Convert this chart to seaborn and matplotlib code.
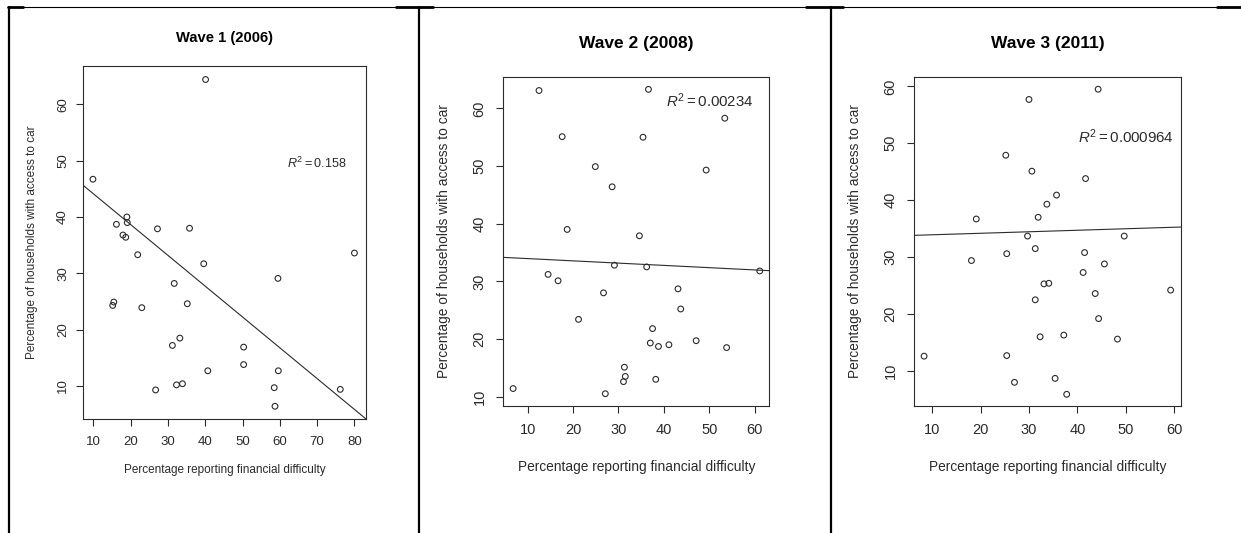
import matplotlib
matplotlib.use("Agg")
import matplotlib.pyplot as plt
from matplotlib.lines import Line2D
import seaborn as sns
import pandas as pd

# ---------------- data ----------------
titles = ["Wave 1 (2006)", "Wave 2 (2008)", "Wave 3 (2011)"]
x_label = "Percentage reporting financial difficulty"
y_label = "Percentage of households with access to car"
r2_labels = [r"$R^2=0.158$", r"$R^2=0.00234$", r"$R^2=0.000964$"]

wave1_x = [9.9, 40.1, 19.0, 16.2, 19.1, 17.95, 18.7, 27.2, 35.8, 21.9, 39.6, 80.0, 59.5,
           31.7, 15.5, 15.2, 23.0, 35.2, 33.2, 31.2, 50.3, 50.3, 40.7, 59.6, 32.3, 33.9,
           26.7, 58.5, 76.2, 58.7]
wave1_y = [46.7, 64.4, 40.0, 38.7, 39.0, 36.8, 36.4, 37.9, 38.0, 33.3, 31.7, 33.6, 29.1,
           28.2, 24.9, 24.3, 23.9, 24.6, 18.5, 17.2, 16.9, 13.8, 12.7, 12.7, 10.2, 10.4,
           9.3, 9.7, 9.4, 6.4]

wave2_x = [6.8, 12.5, 36.6, 53.4, 17.6, 35.4, 24.9, 49.3, 28.6, 18.7, 34.6, 29.1, 36.2,
           61.1, 14.5, 16.7, 43.1, 26.7, 43.7, 21.2, 37.5, 37.0, 38.8, 41.1, 47.1, 53.8,
           31.3, 31.5, 31.1, 38.2, 27.1]
wave2_y = [11.4, 63.1, 63.3, 58.3, 55.1, 55.0, 49.9, 49.3, 46.4, 39.0, 37.9, 32.8, 32.5,
           31.8, 31.2, 30.1, 28.7, 28.0, 25.2, 23.4, 21.8, 19.3, 18.7, 19.0, 19.7, 18.5,
           15.1, 13.5, 12.6, 13.0, 10.5]

wave3_x = [8.3, 44.3, 30.0, 25.2, 30.6, 41.7, 35.7, 33.7, 31.9, 19.1, 29.7, 49.7, 31.3,
           25.4, 41.5, 18.1, 45.6, 41.2, 33.1, 34.1, 59.3, 43.7, 31.3, 44.4, 32.3, 37.2,
           48.3, 25.4, 27.0, 35.4, 37.8]
wave3_y = [12.6, 59.5, 57.7, 47.9, 45.1, 43.8, 40.9, 39.3, 37.0, 36.7, 33.7, 33.7, 31.5,
           30.6, 30.8, 29.4, 28.8, 27.3, 25.3, 25.4, 24.2, 23.6, 22.5, 19.2, 16.0, 16.3,
           15.6, 12.7, 8.0, 8.7, 5.9]

# fitted lines (intercept, slope) as drawn in the reference
fit_intercepts = [49.6, 34.34, 33.66]
fit_slopes = [-0.547, -0.0394, 0.0265]

# R^2 annotation positions (data coords)
r2_x = [70, 50, 50]
r2_y = [49.5, 61.4, 51.2]

xticks = [[10, 20, 30, 40, 50, 60, 70, 80], [10, 20, 30, 40, 50, 60], [10, 20, 30, 40, 50, 60]]
yticks = [[10, 20, 30, 40, 50, 60], [10, 20, 30, 40, 50, 60], [10, 20, 30, 40, 50, 60]]
xlims = [(7.24, 83.1), (4.64, 63.2), (6.28, 61.38)]
ylims = [(4.14, 66.8), (8.32, 65.5), (3.79, 61.7)]

# ---------------- style ----------------
sns.set_style("ticks")
plt.rcParams["font.family"] = ["Liberation Sans", "DejaVu Sans"]
plt.rcParams["mathtext.fontset"] = "custom"
plt.rcParams["mathtext.rm"] = "Liberation Sans"
plt.rcParams["mathtext.it"] = "Liberation Sans:italic"

W, H = 1241, 533
fig = plt.figure(figsize=(W / 100, H / 100), dpi=100)
fig.patch.set_facecolor("white")

# axes boxes in pixels: left, right, top, bottom
boxes = [(83, 366, 66, 419), (503.3, 769.3, 76.7, 406.3), (914.3, 1180.7, 76.7, 406.3)]
title_y = [38, 43, 43]
title_fs = [10.6, 12.5, 12.5]
tick_fs = [9.5, 10.5, 10.5]
label_fs = [8.5, 9.9, 9.9]
r2_fs = [9.1, 10.8, 10.8]
xlabel_y = [470, 467, 467]
ylabel_x = [32, 444, 855]
ytick_pad = [5, 7, 7]

data = [(wave1_x, wave1_y), (wave2_x, wave2_y), (wave3_x, wave3_y)]
ink = "#2b2b2b"

for i, (xs, ys) in enumerate(data):
    l, r, t, b = boxes[i]
    ax = fig.add_axes([l / W, 1 - b / H, (r - l) / W, (b - t) / H])
    df = pd.DataFrame({"x": xs, "y": ys})
    sns.scatterplot(data=df, x="x", y="y", ax=ax, marker="o", s=17,
                    facecolors="none", edgecolor=ink, linewidth=0.8)
    ax.axline((0, fit_intercepts[i]), slope=fit_slopes[i], color=ink, lw=0.8)
    ax.set_xlim(*xlims[i])
    ax.set_ylim(*ylims[i])
    ax.set_xticks(xticks[i])
    ax.set_yticks(yticks[i])
    for s in ax.spines.values():
        s.set_visible(True)
        s.set_linewidth(0.8)
        s.set_color(ink)
    ax.tick_params(axis="both", direction="out", length=5, width=0.8, color=ink,
                   labelsize=tick_fs[i], labelcolor=ink, pad=7)
    ax.tick_params(axis="y", labelrotation=90, pad=ytick_pad[i])
    for lab in ax.get_yticklabels():
        lab.set_va("center")
    ax.set_xlabel(x_label, fontsize=label_fs[i], color=ink)
    ax.set_ylabel(y_label, fontsize=label_fs[i], color=ink)
    ax.xaxis.label.set_va("center")
    ax.yaxis.label.set_va("center")
    ax.xaxis.set_label_coords(0.5, (b - xlabel_y[i]) / (b - t))
    ax.yaxis.set_label_coords((ylabel_x[i] - l) / (r - l), 0.5)
    ax.text(r2_x[i], r2_y[i], r2_labels[i], ha="center", va="center",
            fontsize=r2_fs[i], color=ink)
    fig.text(((l + r) / 2) / W, 1 - title_y[i] / H, titles[i], ha="center",
             va="center", fontsize=title_fs[i], fontweight="bold", color="black")

# ---------------- table-like frame ----------------
def px_line(x0, y0, x1, y1, lw):
    fig.add_artist(Line2D([x0 / W, x1 / W], [1 - y0 / H, 1 - y1 / H],
                          color="black", lw=lw, transform=fig.transFigure))

px_line(8, 7, W, 7, 0.8)
for a, c in [(8, 23), (396, 433), (806, 843), (1217, W)]:
    px_line(a, 7, c, 7, 2.0)
for xv in [9, 419, 831]:
    px_line(xv, 7, xv, H, 1.6)

fig.savefig("out.png", dpi=100)
